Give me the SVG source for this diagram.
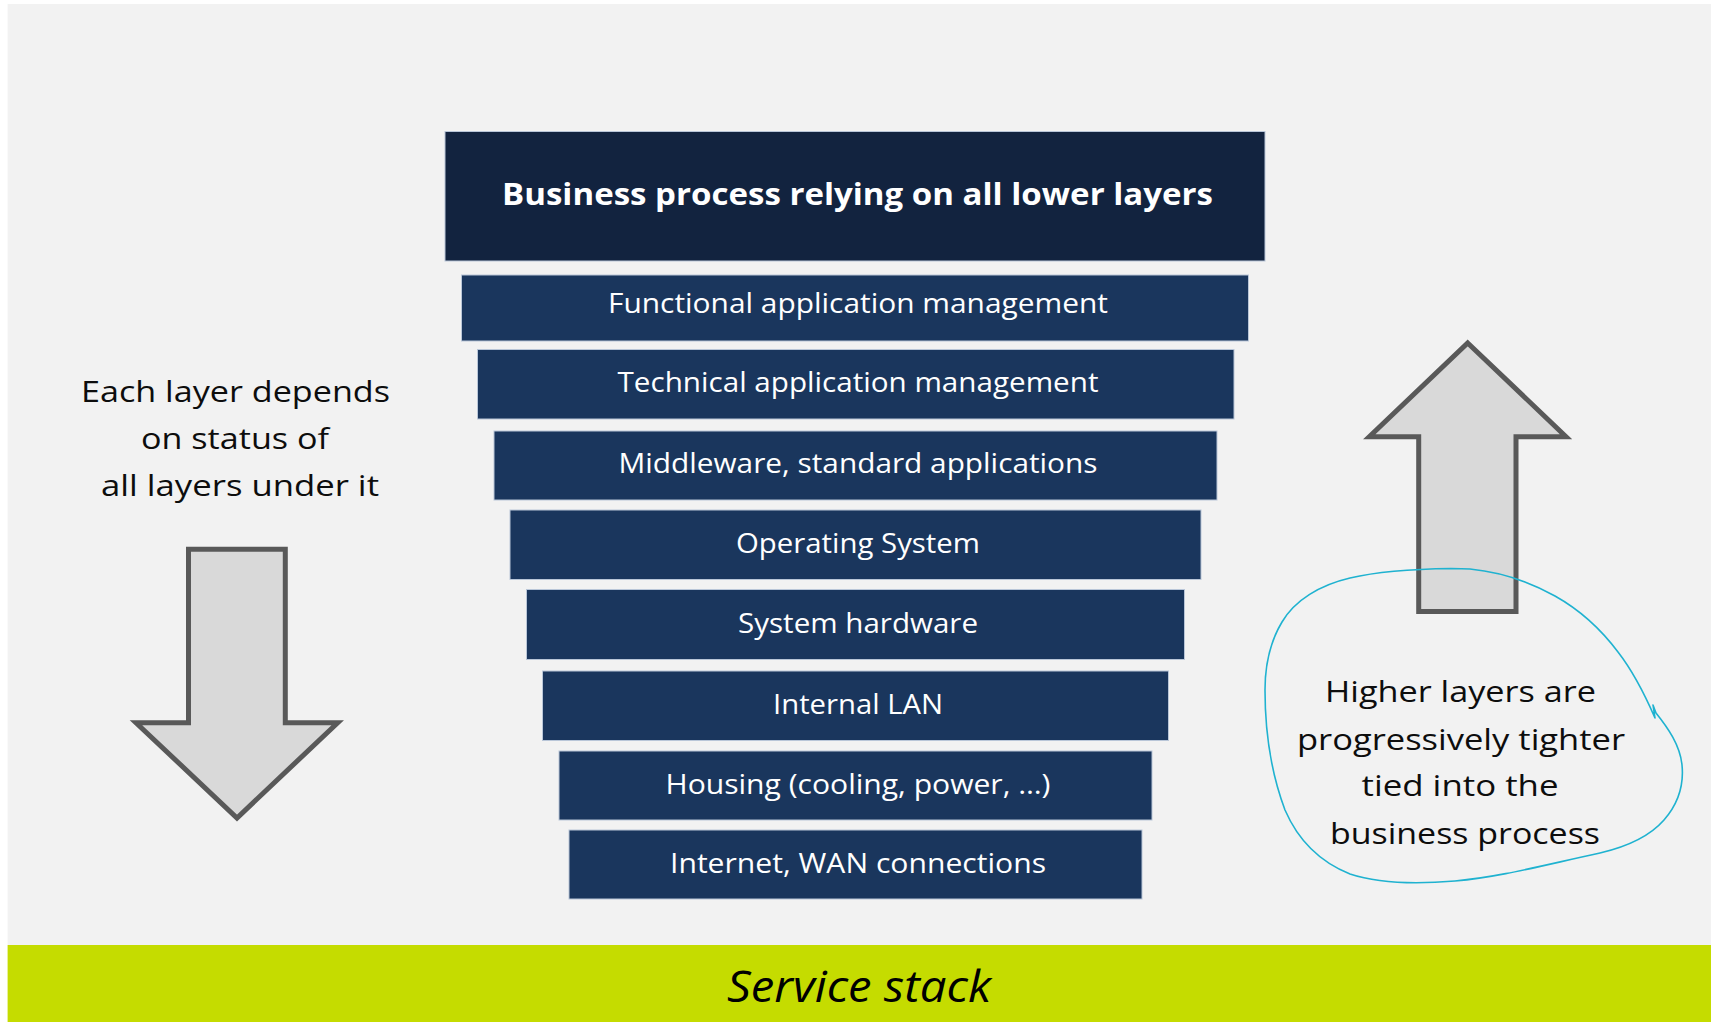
<svg xmlns="http://www.w3.org/2000/svg" width="1711" height="1022" viewBox="0 0 1711 1022">
<style>
.layer{fill:#1a365d;stroke:#b9c6d8;stroke-width:1}
.top{fill:#12233f;stroke:#b9c6d8;stroke-width:1}
.lt{font-family:"Open Sans","Noto Sans",sans-serif;font-size:27.5px;fill:#ffffff;text-anchor:middle}
.tt{font-family:"Open Sans","Noto Sans",sans-serif;font-size:31px;font-weight:bold;fill:#ffffff;text-anchor:middle}
.side{font-family:"Open Sans","Noto Sans",sans-serif;font-size:29.5px;fill:#0d0d0d;text-anchor:middle}
.blk{fill:#d9d9d9;stroke:#595959;stroke-width:5;stroke-linejoin:miter}
</style>
<rect x="0" y="0" width="1711" height="1022" fill="#ffffff"/>
<rect x="7.6" y="4" width="1703.4" height="941" fill="#f2f2f2"/>
<g id="footer">
<rect x="7.6" y="945" width="1703.4" height="77" fill="#c5dc00"/>
<text x="859" y="1002" font-family="'Open Sans','Noto Sans',sans-serif" font-size="43" font-style="italic" fill="#000000" text-anchor="middle" textLength="264" lengthAdjust="spacingAndGlyphs">Service stack</text>
</g>
<g id="business-process">
<rect class="top" x="445" y="131.5" width="820" height="129.5"/>
<text class="tt" x="857.5" y="205" textLength="711" lengthAdjust="spacingAndGlyphs">Business process relying on all lower layers</text>
</g>
<g id="layer-functional">
<rect class="layer" x="461.5" y="275" width="787" height="66"/>
<text class="lt" x="858" y="313" textLength="500" lengthAdjust="spacingAndGlyphs">Functional application management</text>
</g>
<g id="layer-technical">
<rect class="layer" x="477.5" y="349.5" width="756.5" height="69.5"/>
<text class="lt" x="858" y="392" textLength="481" lengthAdjust="spacingAndGlyphs">Technical application management</text>
</g>
<g id="layer-middleware">
<rect class="layer" x="494" y="431" width="723" height="69"/>
<text class="lt" x="858" y="473" textLength="479" lengthAdjust="spacingAndGlyphs">Middleware, standard applications</text>
</g>
<g id="layer-os">
<rect class="layer" x="510" y="510" width="691" height="69.5"/>
<text class="lt" x="858" y="553" textLength="244" lengthAdjust="spacingAndGlyphs">Operating System</text>
</g>
<g id="layer-hardware">
<rect class="layer" x="526.5" y="589.5" width="658" height="70"/>
<text class="lt" x="858" y="633" textLength="240" lengthAdjust="spacingAndGlyphs">System hardware</text>
</g>
<g id="layer-lan">
<rect class="layer" x="542.5" y="671" width="626" height="69.5"/>
<text class="lt" x="858" y="714" textLength="170" lengthAdjust="spacingAndGlyphs">Internal LAN</text>
</g>
<g id="layer-housing">
<rect class="layer" x="559" y="751" width="593" height="69"/>
<text class="lt" x="858" y="794" textLength="385" lengthAdjust="spacingAndGlyphs">Housing (cooling, power, …)</text>
</g>
<g id="layer-internet">
<rect class="layer" x="569" y="830" width="573" height="69"/>
<text class="lt" x="858" y="873" textLength="376" lengthAdjust="spacingAndGlyphs">Internet, WAN connections</text>
</g>
<g id="left-note">
<text class="side" x="235.5" y="401.5" textLength="309" lengthAdjust="spacingAndGlyphs">Each layer depends</text>
<text class="side" x="235" y="449" textLength="188" lengthAdjust="spacingAndGlyphs">on status of</text>
<text class="side" x="240" y="496" textLength="278" lengthAdjust="spacingAndGlyphs">all layers under it</text>
</g>
<g id="arrow-down">
<polygon class="blk" points="188.5,549.3 285.3,549.3 285.3,722.7 337.7,722.7 237,818 136,722.7 188.5,722.7"/>
</g>
<g id="arrow-up">
<polygon class="blk" points="1467.7,343 1566,436.7 1516,436.7 1516,611.5 1418.7,611.5 1418.7,436.7 1369.3,436.7"/>
</g>
<g id="right-note">
<text class="side" x="1460.5" y="701.5" textLength="271" lengthAdjust="spacingAndGlyphs">Higher layers are</text>
<text class="side" x="1461" y="749.5" textLength="328" lengthAdjust="spacingAndGlyphs">progressively tighter</text>
<text class="side" x="1460" y="796" textLength="197" lengthAdjust="spacingAndGlyphs">tied into the</text>
<text class="side" x="1465" y="844" textLength="270" lengthAdjust="spacingAndGlyphs">business process</text>
</g>
<g id="connectors">
<path id="highlight-loop" fill="none" stroke="#1fb2d0" stroke-width="1.6" stroke-linecap="round" stroke-linejoin="round" d="M1451,568.5 C1410,569 1380,571 1350,578 C1320,585 1295,600 1282,622 C1270,642 1265,665 1265,690 C1265,730 1270,770 1285,810 C1298,840 1320,862 1350,874 C1380,884 1420,884 1455,881 C1500,877 1540,866 1600,853 C1630,846 1650,836 1664,820 C1678,804 1684,785 1682,765 C1680,745 1668,728 1656,713 L1653,705 L1655,718 C1645,695 1632,670 1618,652 C1600,628 1580,610 1555,596 C1530,582 1500,572 1470,569 C1462,568.5 1456,568.5 1451,568.5 Z"/>
</g>
</svg>
